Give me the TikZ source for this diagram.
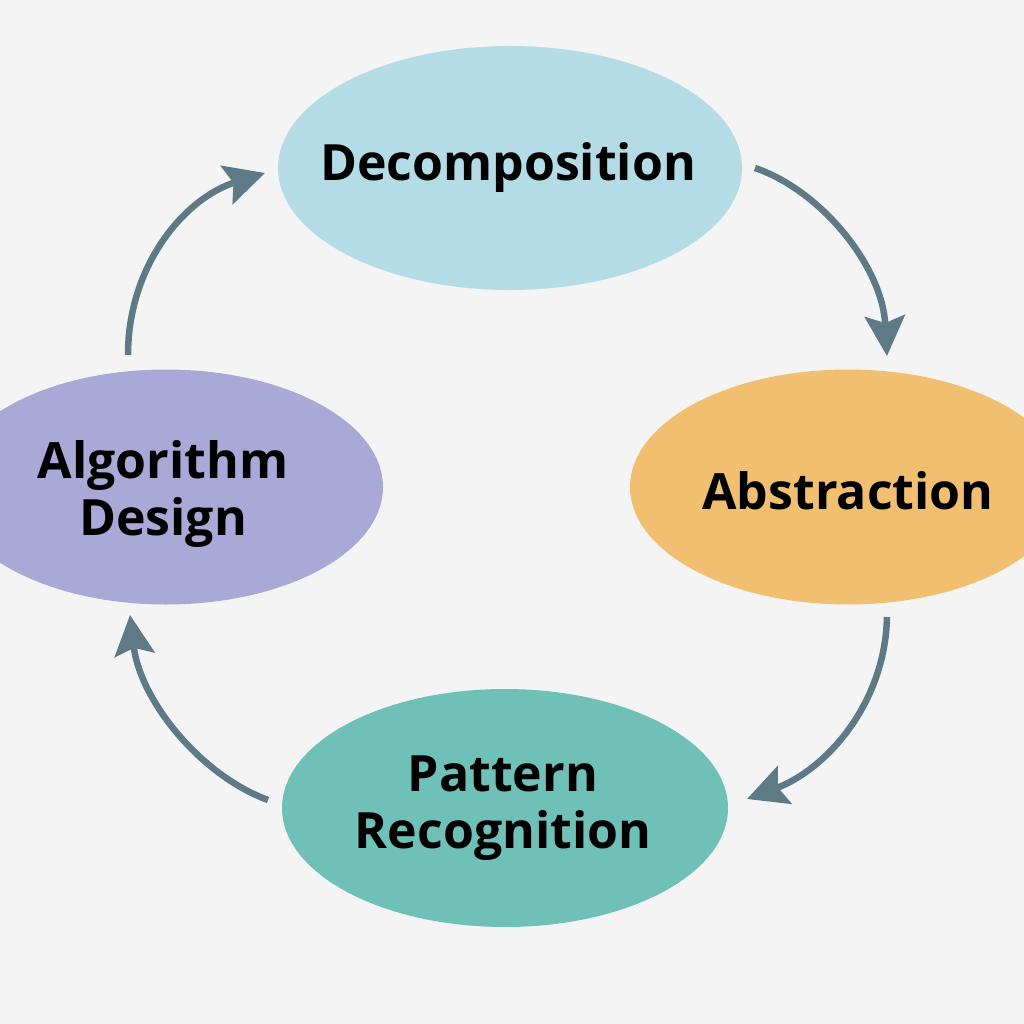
\documentclass[tikz,border=0pt]{standalone}
\usepackage{fontspec}
\setmainfont{Open Sans}
\usetikzlibrary{shapes.geometric,arrows.meta}
\definecolor{bg}{HTML}{F4F4F4}
\definecolor{cdec}{HTML}{B4DCE7}
\definecolor{cabs}{HTML}{F0C070}
\definecolor{cpat}{HTML}{6FC1B8}
\definecolor{calg}{HTML}{A9A8D6}
\definecolor{carr}{HTML}{5E7A86}
\tikzset{
  blob/.style={ellipse, inner sep=0pt, outer sep=0pt},
  lbl/.style={text=black, align=center, inner sep=0pt,
    font=\fontsize{50}{57}\selectfont\bfseries},
  cyc/.style={draw=carr, line width=6.5pt,
    -{Stealth[length=40pt, width=40pt, inset=7pt]}}
}
\begin{document}
\begin{tikzpicture}[x=1pt,y=-1pt]
\useasboundingbox (0,0) rectangle (1024,1024);
\clip (0,0) rectangle (1024,1024);
\fill[bg] (0,0) rectangle (1024,1024);
\node[blob, fill=cdec, minimum width=464pt, minimum height=244pt] (dec) at (510,168) {};
\node[blob, fill=cabs, minimum width=436pt, minimum height=235pt] (abs) at (848,487) {};
\node[blob, fill=cpat, minimum width=446pt, minimum height=238pt] (pat) at (505,808) {};
\node[blob, fill=calg, minimum width=434pt, minimum height=235pt] (alg) at (166,487) {};
\node[lbl] (tdec) at (508,168) {Decomposition};
\node[lbl] (tabs) at (848,491) {Abstraction};
\node[lbl] (tpat) at (503,808) {Pattern\\Recognition};
\node[lbl] (talg) at (163,494) {Algorithm\\Design};
\coordinate (a1s) at (128,355);
\coordinate (a1e) at (265,173);
\coordinate (a2s) at (755,168);
\coordinate (a2e) at (887,356);
\coordinate (a3s) at (887,617);
\coordinate (a3e) at (747,799);
\coordinate (a4s) at (268,800);
\coordinate (a4e) at (130,615);
\draw[cyc] (a1s) .. controls (128,265) and (185,198) .. (a1e);
\draw[cyc] (a2s) .. controls (820,190) and (882,265) .. (a2e);
\draw[cyc] (a3s) .. controls (885,705) and (825,770) .. (a3e);
\draw[cyc] (a4s) .. controls (200,775) and (140,700) .. (a4e);
\end{tikzpicture}
\end{document}
